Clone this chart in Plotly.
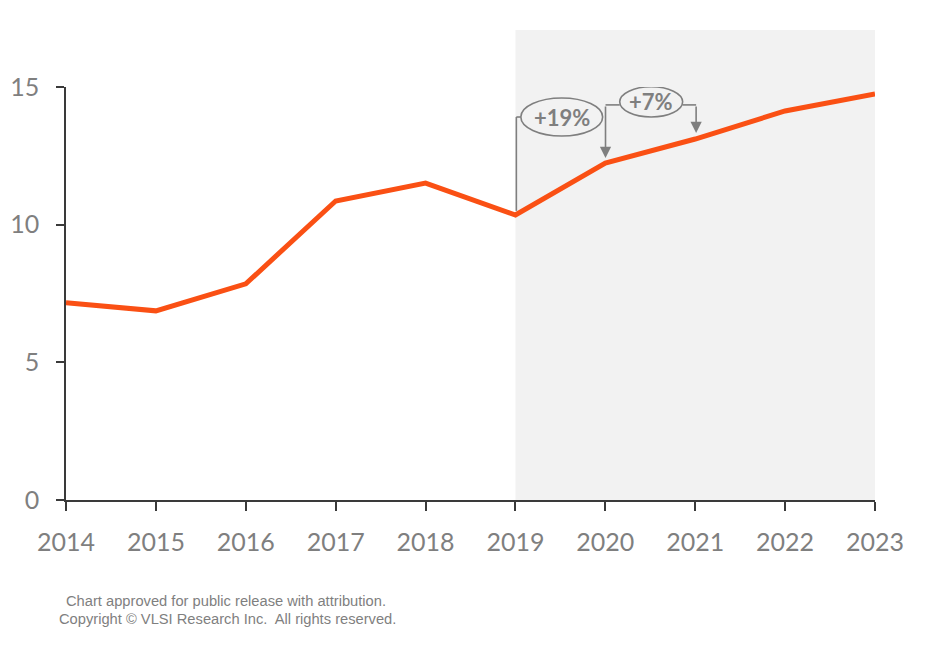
import plotly.graph_objects as go

years = [2014, 2015, 2016, 2017, 2018, 2019, 2020, 2021, 2022, 2023]
values = [7.16, 6.87, 7.85, 10.86, 11.51, 10.35, 12.24, 13.11, 14.13, 14.75]
y_ticks = [0, 5, 10, 15]
growth_labels = ["+19%", "+7%"]
forecast_start = 2019
footer_lines = ["Chart approved for public release with attribution.",
                "Copyright © VLSI Research Inc.  All rights reserved."]

GRAY = "#7f7f7f"
AXIS = "#3a3a3a"
ORANGE = "#fa5014"
SHADE = "#f2f2f2"

fig = go.Figure()

fig.add_trace(go.Scatter(x=years, y=values, mode="lines",
                         line=dict(color=ORANGE, width=5), hoverinfo="skip",
                         showlegend=False))

# forecast shading
fig.add_shape(type="rect", xref="x", yref="paper", x0=forecast_start, x1=years[-1],
              y0=0, y1=1.138, fillcolor=SHADE, line=dict(width=0), layer="below")

i19 = years.index(2019)
i20 = years.index(2020)
i21 = years.index(2021)

lc = dict(color=GRAY, width=1.6)
# +19% bracket
lvl1 = 13.91
fig.add_shape(type="line", x0=years[i19] + 0.01, x1=years[i19] + 0.01,
              y0=values[i19] + 0.15, y1=lvl1, line=lc)
fig.add_shape(type="line", x0=years[i19] + 0.01, x1=2019.06, y0=lvl1, y1=lvl1, line=lc)
# +7% bracket level
lvl2 = 14.35
fig.add_shape(type="line", x0=years[i20] + 0.002, x1=2020.16, y0=lvl2, y1=lvl2, line=lc)
fig.add_shape(type="line", x0=2020.86, x1=years[i21] + 0.01, y0=lvl2, y1=lvl2, line=lc)

# arrows down
for xi, top, tip in [(years[i20] + 0.002, lvl2, values[i20] + 0.18),
                     (years[i21] + 0.01, lvl2, values[i21] + 0.22)]:
    fig.add_annotation(x=xi, y=tip, ax=xi, ay=top, xref="x", yref="y",
                       axref="x", ayref="y", text="", showarrow=True,
                       arrowhead=2, arrowsize=1.4, arrowwidth=1.6, arrowcolor=GRAY)

# ellipses
fig.add_shape(type="circle", x0=2019.06, x1=2019.97, y0=lvl1 - 0.69, y1=lvl1 + 0.69,
              line=dict(color=GRAY, width=1.6), fillcolor=SHADE)
fig.add_shape(type="circle", x0=2020.16, x1=2020.86, y0=14.46 - 0.55, y1=14.46 + 0.55,
              line=dict(color=GRAY, width=1.6), fillcolor=SHADE)

fig.add_annotation(x=2019.515, y=lvl1, text="<b>" + growth_labels[0] + "</b>",
                   showarrow=False, font=dict(family="Lato", size=22, color=GRAY))
fig.add_annotation(x=2020.51, y=14.46, text="<b>" + growth_labels[1] + "</b>",
                   showarrow=False, font=dict(family="Lato", size=22, color=GRAY))

fig.add_annotation(xref="paper", yref="paper", x=(226 - 66) / (875 - 66), y=-(601 - 500) / 413,
                   yanchor="middle", xanchor="center", text=footer_lines[0], showarrow=False,
                   font=dict(family="Liberation Sans", size=14.7, color=GRAY))
fig.add_annotation(xref="paper", yref="paper", x=(227 - 66) / (875 - 66), y=-(619 - 500) / 413,
                   yanchor="middle", xanchor="center", text=footer_lines[1], showarrow=False,
                   font=dict(family="Liberation Sans", size=14.7, color=GRAY))

fig.update_layout(
    width=934, height=653,
    margin=dict(l=66, r=59, t=87, b=153, autoexpand=False),
    paper_bgcolor="white", plot_bgcolor="rgba(0,0,0,0)",
    xaxis=dict(range=[years[0], years[-1]], tickvals=years, showgrid=False, zeroline=False,
               showline=True, linecolor=AXIS, linewidth=1.5, ticks="outside", ticklen=9,
               tickcolor=AXIS, tickwidth=1.5, ticklabelstandoff=10, automargin=False,
               tickfont=dict(family="Lato", size=25, color=GRAY)),
    yaxis=dict(range=[0, 15], tickvals=y_ticks, showgrid=False, zeroline=False,
               showline=True, linecolor=AXIS, linewidth=1.5, ticks="outside", ticklen=8,
               tickcolor=AXIS, tickwidth=1.5, ticklabelstandoff=12, automargin=False,
               tickfont=dict(family="Lato", size=25, color=GRAY)),
)

fig.write_html("out.html")
